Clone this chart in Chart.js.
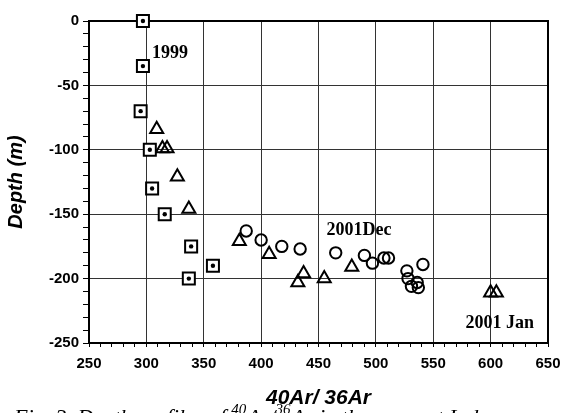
<!DOCTYPE html>
<html>
<head>
<meta charset="utf-8">
<script src="https://cdn.jsdelivr.net/npm/chart.js@4.4.0/dist/chart.umd.min.js"></script>
<style>
  html, body { margin: 0; padding: 0; background: #fff; }
</style>
</head>
<body>
<canvas id="depth-chart" width="566" height="413"></canvas>
<script>
// 1999 (squares with a dot)
const RATIO_1999 = [297, 297, 295, 303, 305, 316, 339, 358, 337];
const DEPTH_1999 = [0, -35, -70, -100, -130, -150, -175, -190, -200];

// 2001 Jan (triangles)
const RATIO_JAN = [309, 314, 318, 327, 337, 381, 407, 432, 437, 455, 479, 600, 605];
const DEPTH_JAN = [-84, -99, -99, -121, -146, -171, -181, -203, -196, -200, -191, -211, -211];

// 2001 Dec (circles)
const RATIO_DEC = [387, 400, 418, 434, 465, 490, 497, 507, 511, 527, 528, 531, 536, 537, 541];
const DEPTH_DEC = [-163, -170, -175, -177, -180, -182, -188, -184, -184, -194, -200, -206, -203, -207, -189];

const NOTE_TEXT = ['1999', '2001Dec', '2001 Jan'];
const NOTE_X = [305, 457, 578];
const NOTE_Y = [-29, -166, -238];

const X_TITLE = '40Ar/ 36Ar';
const Y_TITLE = 'Depth (m)';

function toPoints(xs, ys) {
  return xs.map((x, i) => ({ x: x, y: ys[i] }));
}

const SANS = '"Liberation Sans", Arial, sans-serif';
const SERIF = '"Liberation Serif", "Times New Roman", serif';

const boxAndNotes = {
  id: 'boxAndNotes',
  beforeDatasetsDraw(chart) {
    const { ctx, chartArea } = chart;
    ctx.save();
    ctx.strokeStyle = '#000';
    ctx.lineWidth = 2;
    ctx.strokeRect(chartArea.left, chartArea.top, chartArea.right - chartArea.left, chartArea.bottom - chartArea.top);
    ctx.restore();
  },
  afterDraw(chart) {
    const { ctx, scales } = chart;
    ctx.save();
    ctx.fillStyle = '#000';
    ctx.font = 'bold 18px ' + SERIF;
    ctx.textBaseline = 'alphabetic';
    ctx.textAlign = 'left';
    for (let i = 0; i < NOTE_TEXT.length; i++) {
      ctx.fillText(NOTE_TEXT[i], scales.x.getPixelForValue(NOTE_X[i]), scales.y.getPixelForValue(NOTE_Y[i]));
    }

    // figure caption, cut off by the bottom edge
    const parts = [
      ['Fig. 3. Depth profiles of ', false],
      ['40', true],
      ['Ar/', false],
      ['36', true],
      ['Ar in the cores at Ind', false]
    ];
    let x = 14;
    ctx.textBaseline = 'top';
    parts.forEach(([t, sup]) => {
      ctx.font = (sup ? 'italic 15px ' : 'italic 22px ') + SERIF;
      ctx.fillText(t, x, sup ? 403 : 407);
      x += ctx.measureText(t).width + (sup ? 1 : 0);
    });
    ctx.restore();
  }
};

const majorGrid = (c) => (c.tick && c.tick.value % 50 === 0) ? '#333' : 'rgba(0,0,0,0)';
const majorLabel = (v) => (v % 50 === 0 ? v : '');

const ctx = document.getElementById('depth-chart');
const depthChart = new Chart(ctx, {
  type: 'scatter',
  data: {
    datasets: [
      {
        label: '1999 dot',
        data: toPoints(RATIO_1999, DEPTH_1999),
        pointStyle: 'circle',
        pointRadius: 2.2,
        borderWidth: 0,
        backgroundColor: '#000',
        clip: false
      },
      {
        label: '1999',
        data: toPoints(RATIO_1999, DEPTH_1999),
        pointStyle: 'rect',
        pointRadius: 8.5,
        borderWidth: 2,
        borderColor: '#000',
        backgroundColor: '#fff',
        clip: false
      },
      {
        label: '2001 Jan',
        data: toPoints(RATIO_JAN, DEPTH_JAN),
        pointStyle: 'triangle',
        pointRadius: 7.5,
        borderWidth: 2,
        borderColor: '#000',
        backgroundColor: 'rgba(0,0,0,0)',
        clip: false
      },
      {
        label: '2001 Dec',
        data: toPoints(RATIO_DEC, DEPTH_DEC),
        pointStyle: 'circle',
        pointRadius: 5.7,
        borderWidth: 2,
        borderColor: '#000',
        backgroundColor: 'rgba(0,0,0,0)',
        clip: false
      }
    ]
  },
  options: {
    responsive: false,
    animation: false,
    devicePixelRatio: 1,
    layout: { padding: { top: 21, right: 18, left: 0, bottom: 0 } },
    plugins: {
      legend: { display: false },
      tooltip: { enabled: false }
    },
    scales: {
      x: {
        type: 'linear',
        min: 250,
        max: 650,
        afterFit: (scale) => {
          scale.height = 70;
          scale.paddingLeft = 0;
          scale.paddingRight = 0;
        },
        ticks: {
          stepSize: 10,
          autoSkip: false,
          maxRotation: 0,
          padding: 8,
          color: '#000',
          font: { family: SANS, size: 15, weight: 'bold' },
          callback: majorLabel
        },
        grid: { color: majorGrid, tickColor: '#000', tickLength: 4, lineWidth: 1 },
        border: { display: true, color: '#000', width: 2 },
        title: {
          display: true,
          text: X_TITLE,
          color: '#000',
          font: { family: SANS, size: 21, weight: 'bold', style: 'italic' },
          padding: { top: 0, bottom: 2 }
        }
      },
      y: {
        type: 'linear',
        min: -250,
        max: 0,
        afterFit: (scale) => {
          scale.width = 89;
          scale.paddingTop = 0;
          scale.paddingBottom = 0;
        },
        ticks: {
          stepSize: 10,
          autoSkip: false,
          padding: 4,
          color: '#000',
          font: { family: SANS, size: 15, weight: 'bold' },
          callback: majorLabel
        },
        grid: { color: majorGrid, tickColor: '#000', tickLength: 6, lineWidth: 1 },
        border: { display: true, color: '#000', width: 2 },
        title: {
          display: true,
          text: Y_TITLE,
          color: '#000',
          font: { family: SANS, size: 20, weight: 'bold', style: 'italic' },
          padding: { top: 4, bottom: 0 }
        }
      }
    }
  },
  plugins: [boxAndNotes]
});
</script>
</body>
</html>
